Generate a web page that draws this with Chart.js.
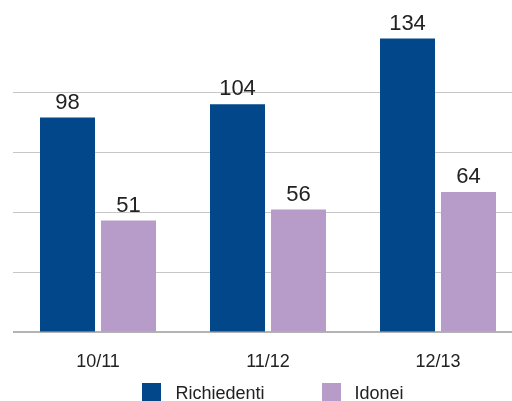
<!DOCTYPE html>
<html lang="it">
<head>
    <meta charset="UTF-8">
    <title>Richiedenti e Idonei</title>
    <script src="https://cdn.jsdelivr.net/npm/chart.js"></script>
    <style>
        html, body { margin: 0; padding: 0; overflow: hidden; background: #fff; }
        .wrap { width: 546px; height: 401px; }
    </style>
</head>
<body>
    <div class="wrap">
        <canvas id="grafico" width="546" height="401"></canvas>
    </div>

    <script>
        // Dati
        const anni = ['10/11', '11/12', '12/13'];
        const richiedenti = [98, 104, 134];
        const idonei = [51, 56, 64];
        const serieNomi = ['Richiedenti', 'Idonei'];
        const serieColori = ['#03478b', '#b79bc9'];
        const gridTicks = [0, 27.4, 54.8, 82.2, 109.6];

        const FONT = '"Liberation Sans", Arial, sans-serif';

        // etichette sopra le barre
        const valoriPlugin = {
            id: 'valori',
            afterDatasetsDraw(chart) {
                const ctx = chart.ctx;
                ctx.save();
                ctx.font = '22px ' + FONT;
                ctx.fillStyle = '#222';
                ctx.textAlign = 'center';
                ctx.textBaseline = 'alphabetic';
                chart.data.datasets.forEach((ds, i) => {
                    chart.getDatasetMeta(i).data.forEach((bar, j) => {
                        ctx.fillText(String(ds.data[j]), bar.x, bar.y - 9);
                    });
                });
                ctx.restore();
            }
        };

        // legenda in basso
        const legendaPlugin = {
            id: 'legenda',
            afterDraw(chart) {
                const ctx = chart.ctx;
                ctx.save();
                ctx.font = '18px ' + FONT;
                const box = 19, gapTesto = 14, gapItem = 57;
                const larghezze = chart.data.datasets.map(ds => ctx.measureText(ds.label).width);
                let totale = 0;
                larghezze.forEach((w, i) => { totale += box + gapTesto + w + (i > 0 ? gapItem : 0); });
                let x = chart.width / 2 - totale / 2;
                ctx.textBaseline = 'alphabetic';
                ctx.textAlign = 'left';
                chart.data.datasets.forEach((ds, i) => {
                    ctx.fillStyle = ds.backgroundColor;
                    ctx.fillRect(Math.round(x), 383, box, 18);
                    ctx.fillStyle = '#222';
                    ctx.fillText(ds.label, x + box + gapTesto, 399);
                    x += box + gapTesto + larghezze[i] + gapItem;
                });
                ctx.restore();
            }
        };

        new Chart(document.getElementById('grafico'), {
            type: 'bar',
            data: {
                labels: anni,
                datasets: [
                    { label: serieNomi[0], data: richiedenti, backgroundColor: serieColori[0] },
                    { label: serieNomi[1], data: idonei, backgroundColor: serieColori[1] }
                ]
            },
            options: {
                responsive: false,
                animation: false,
                devicePixelRatio: 1,
                categoryPercentage: 0.7176,
                barPercentage: 0.9016,
                layout: { padding: { left: 13, right: 23, top: 32, bottom: 9 } },
                plugins: {
                    legend: { display: false },
                    tooltip: { enabled: false }
                },
                scales: {
                    x: {
                        grid: { display: false, drawTicks: false },
                        border: { display: false },
                        ticks: {
                            color: '#222',
                            padding: 19,
                            font: { family: FONT, size: 18 }
                        }
                    },
                    y: {
                        min: 0,
                        max: 137,
                        afterBuildTicks: scale => {
                            scale.ticks = gridTicks.map(v => ({ value: v }));
                        },
                        border: { display: false },
                        grid: {
                            drawTicks: false,
                            color: ctx => ctx.tick && ctx.tick.value === 0 ? '#b3b3b3' : '#c6c6c6',
                            lineWidth: ctx => ctx.tick && ctx.tick.value === 0 ? 2 : 1
                        },
                        ticks: { display: false }
                    }
                }
            },
            plugins: [valoriPlugin, legendaPlugin]
        });
    </script>
</body>
</html>
